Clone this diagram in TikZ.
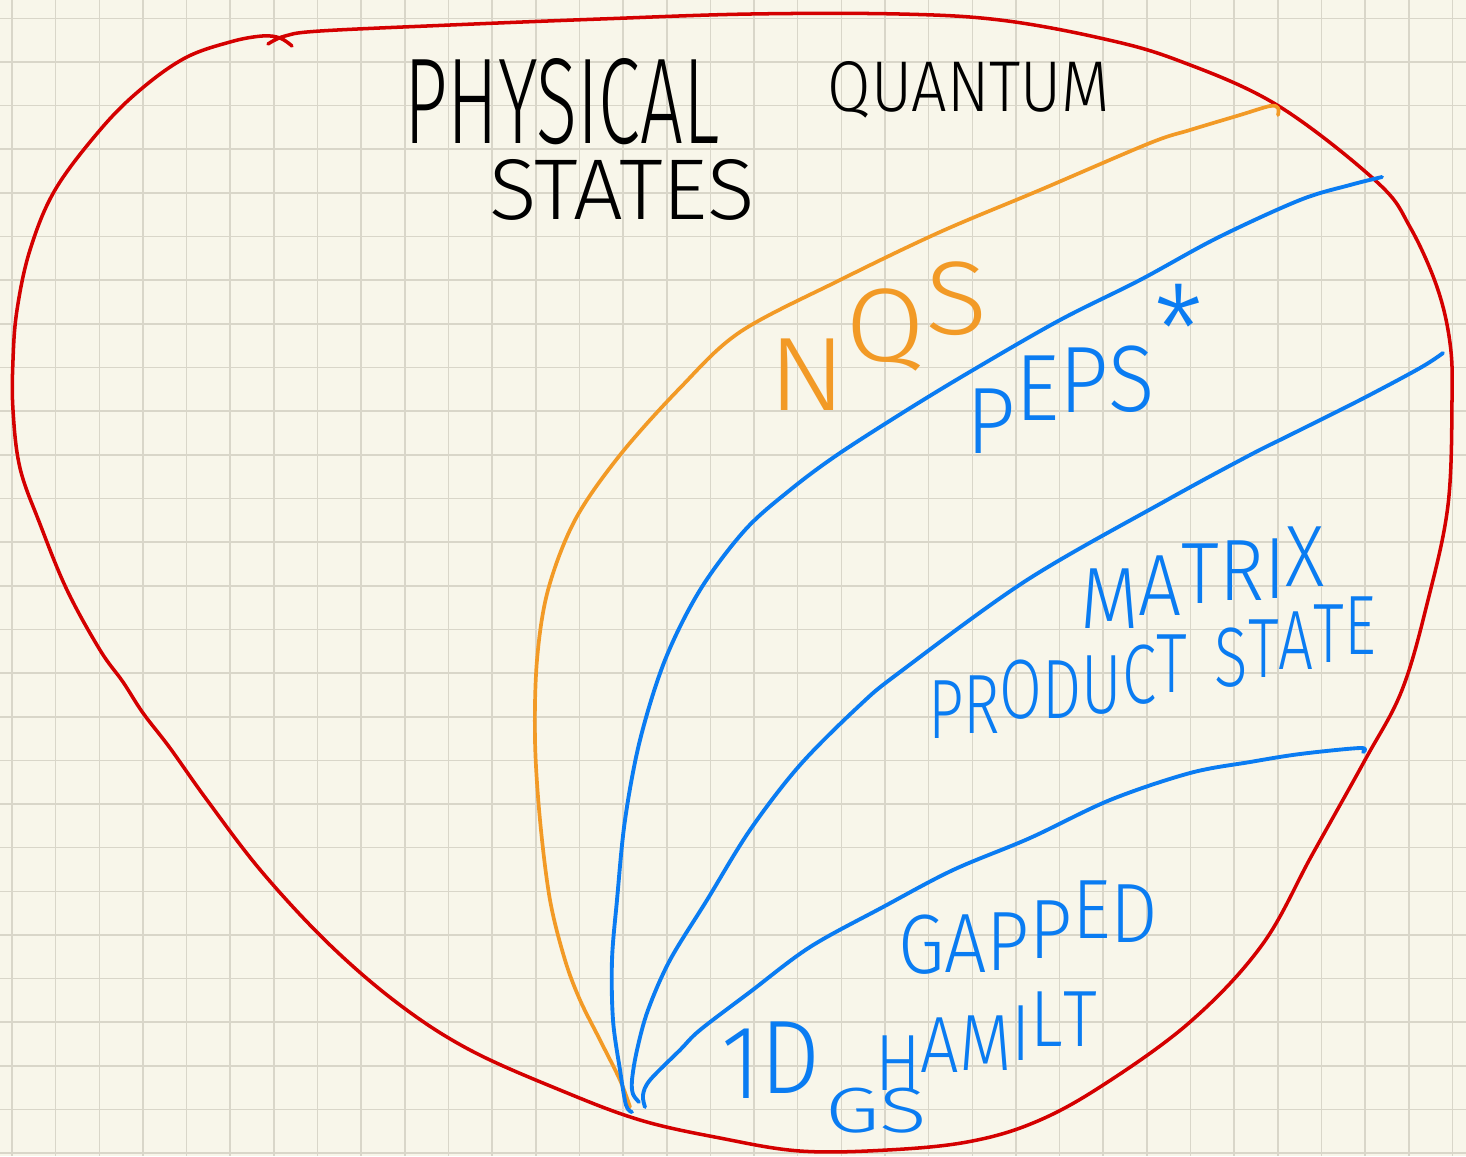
\documentclass[tikz,border=0pt]{standalone}
\usepackage{fontspec}
\usepackage{graphicx}
\setmainfont{Fira Sans Light}
\definecolor{paper}{HTML}{F8F6EA}
\definecolor{gridc}{HTML}{D9D6C9}
\definecolor{penred}{HTML}{D40000}
\definecolor{penorange}{HTML}{F29A26}
\definecolor{penblue}{HTML}{0A7CF2}
\newcommand{\hwtext}[3]{\resizebox{#1}{#2}{#3}}
% word set at a given size, letters raised one by one, then fitted to a width
\newcommand{\stairword}[3]{\resizebox{#1}{\height}{\fontsize{#2}{#2}\selectfont #3}}
\newcommand{\rzl}[2]{\raisebox{#1}{#2}}
\tikzset{
  gridline/.style={draw=gridc, line width=0.45pt},
  redpen/.style={draw=penred, line width=1.0pt, line cap=round, line join=round},
  orangepen/.style={draw=penorange, line width=1.05pt, line cap=round, line join=round},
  bluepen/.style={draw=penblue, line width=1.1pt, line cap=round, line join=round},
  lbl/.style={inner sep=0pt, outer sep=0pt},
  stair/.style={inner sep=0pt, outer sep=0pt, anchor=base west}
}
\begin{document}
\begin{tikzpicture}[x=0.01cm, y=-0.01cm]
\fill[paper] (0,0) rectangle (1466,1156);
\useasboundingbox (0,0) rectangle (1466,1156);
% grid
\foreach \i in {0,...,33} \draw[gridline] ({12+43.65*\i},0) -- ({12+43.65*\i},1156);
\foreach \j in {0,...,26} \draw[gridline] (0,{18.3+43.65*\j}) -- (1466,{18.3+43.65*\j});

% outer red boundary
\draw[redpen] plot[smooth, tension=0.6] coordinates {
 (268,44) (285,36) (320,31) (450,25) (600,19) (750,14) (900,14) (1000,20) (1100,38) (1177,60)
 (1277,105) (1377,182) (1410,227) (1437,287) (1450,343) (1452,400) (1448,505) (1428,600)
 (1402,690) (1365,760) (1312,855) (1262,945) (1190,1022) (1100,1087) (1033,1123)
 (967,1142) (887,1150) (800,1151) (720,1138) (640,1120) (560,1090) (470,1050)
 (400,1005) (330,945) (262,872) (207,800) (170,748) (143,713) (123,682) (100,650)
 (67,590) (40,524) (20,468) (13,410) (13,360) (17,310) (30,250) (55,190) (100,130)
 (140,90) (185,58) (230,42) (262,36) (280,38) (292,46)};

% orange NQS boundary
\draw[orangepen] plot[smooth, tension=0.55] coordinates {
 (630,1107) (620,1080) (600,1040) (580,1000) (565,960) (550,900) (540,820) (535,740)
 (537,660) (548,590) (575,520) (620,455) (680,388) (740,332) (840,280) (940,232)
 (1040,190) (1150,143) (1190,130) (1240,115) (1270,106) (1278,108) (1278,115)};

% blue PEPS boundary
\draw[bluepen] plot[smooth, tension=0.55] coordinates {
 (632,1112) (626,1105) (620,1070) (613,1020) (612,960) (617,900) (625,820) (640,740)
 (665,660) (700,590) (745,530) (790,490) (837,455) (907,410) (973,370) (1060,320)
 (1140,280) (1217,238) (1300,200) (1350,185) (1382,177)};

% blue MPS boundary
\draw[bluepen] plot[smooth, tension=0.55] coordinates {
 (639,1102) (633,1094) (632,1080) (637,1050) (648,1010) (670,960) (707,900) (750,830)
 (800,765) (860,705) (900,672) (1027,580) (1167,500) (1250,455) (1290,435) (1360,400)
 (1420,368) (1443,353)};

% blue gapped boundary
\draw[bluepen] plot[smooth, tension=0.55] coordinates {
 (645,1107) (643,1095) (650,1080) (680,1050) (700,1030) (750,992) (810,947) (883,907)
 (953,870) (1030,838) (1110,800) (1190,773) (1250,762) (1300,754) (1360,748) (1363,752)};

% labels
\node[lbl, text=black] (phys) at (562,102) {\hwtext{31.5mm}{8.5mm}{PHYSICAL}};
\node[lbl, text=black] (quant) at (969,90) {\hwtext{28.2mm}{5.0mm}{QUANTUM}};
\node[lbl, text=black] (states) at (622,190) {\hwtext{26.5mm}{6.0mm}{STATES}};

\node[stair, text=penorange] (nqs) at (768,410)
  {\stairword{22mm}{10.45mm}{N\rzl{4.8mm}{Q}\rzl{7.5mm}{S}}};
\node[stair, text=penblue] (peps) at (966,453)
  {\stairword{23.7mm}{9.43mm}{P\rzl{3.3mm}{E}\rzl{4.0mm}{P}\rzl{4.1mm}{S}\rzl{7.8mm}{\scalebox{1.3}{*}}}};
\node[stair, text=penblue] (matrix) at (1080,628)
  {\stairword{24.5mm}{8.71mm}{M\rzl{1.3mm}{A}\rzl{2.5mm}{T}\rzl{2.8mm}{R}\rzl{3.0mm}{I}\rzl{4.1mm}{X}}};
\node[stair, text=penblue] (pstate) at (928,738)
  {\stairword{44.8mm}{8.42mm}{P\rzl{0.5mm}{R}\rzl{2.0mm}{O}\rzl{2.0mm}{D}\rzl{2.5mm}{U}\rzl{3.5mm}{C}\rzl{4.5mm}{T}\hspace{0.45em}\rzl{5.1mm}{S}\rzl{6.0mm}{T}\rzl{6.8mm}{A}\rzl{7.5mm}{T}\rzl{8.3mm}{E}}};
\node[stair, text=penblue] (gapped) at (898,973)
  {\stairword{26mm}{8.42mm}{G\rzl{0.1mm}{A}\rzl{0.3mm}{P}\rzl{1.5mm}{P}\rzl{3.5mm}{E}\rzl{3.1mm}{D}}};
\node[stair, text=penblue] (oned) at (721,1098)
  {\stairword{9.9mm}{10.45mm}{1\rzl{0.5mm}{D}}};
\node[stair, text=penblue] (hamilt) at (875,1090)
  {\stairword{22.2mm}{7.98mm}{H\rzl{1.8mm}{A}\rzl{2.0mm}{M}\rzl{3.0mm}{I}\rzl{4.3mm}{L}\rzl{4.3mm}{T}}};
\node[stair, text=penblue] (gs) at (825,1132)
  {\stairword{10.2mm}{6.39mm}{GS}};
\end{tikzpicture}
\end{document}
